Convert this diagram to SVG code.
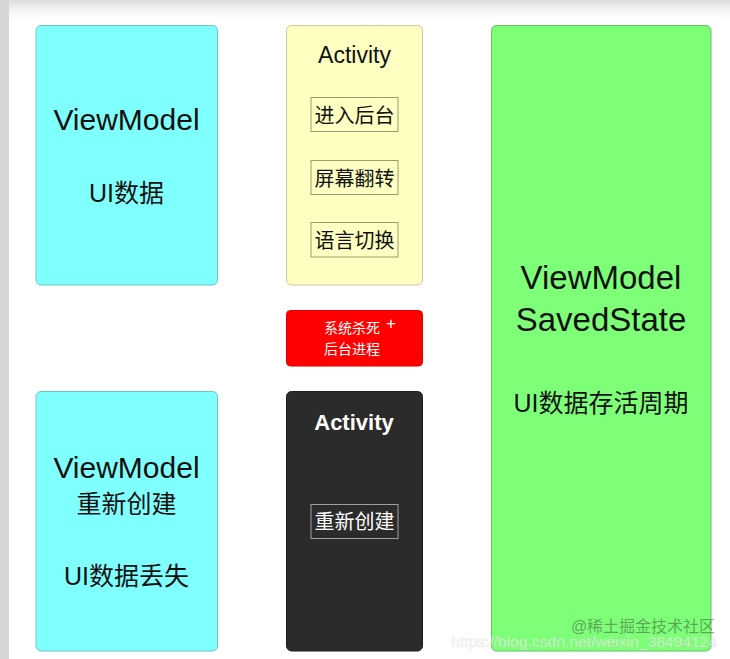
<svg xmlns="http://www.w3.org/2000/svg" width="730" height="659" viewBox="0 0 730 659">
<defs>
<linearGradient id="topfade" x1="0" y1="0" x2="0" y2="1">
<stop offset="0" stop-color="#dcdcdc"/>
<stop offset="1" stop-color="#ffffff" stop-opacity="0"/>
</linearGradient>
<style>
text{font-family:"Liberation Sans","Noto Sans CJK SC",sans-serif;text-anchor:middle}
.cyan{fill:#80ffff;stroke:#6cc6c6;stroke-width:1}
.yellow{fill:#ffffc2;stroke:#c9c99a;stroke-width:1}
.red{fill:#ff0000;stroke:#dd0000;stroke-width:1}
.dark{fill:#2b2b2b;stroke:#1e1e1e;stroke-width:1}
.green{fill:#7dff78;stroke:#63c460;stroke-width:1}
.inbox{fill:none;stroke:#9b9b72;stroke-width:1}
.inboxd{fill:none;stroke:#a0a0a0;stroke-width:1}
.dk{fill:#111}
.wt{fill:#fff}
</style>
</defs>
<rect x="0" y="0" width="730" height="659" fill="#ffffff"/>
<rect x="0" y="0" width="730" height="24" fill="url(#topfade)"/>
<rect x="0" y="0" width="9" height="659" fill="#d6d6d6"/>

<g id="vm-top">
<rect class="cyan" x="36" y="25.5" width="181.5" height="259.5" rx="5"/>
<text class="dk" x="126.5" y="130" font-size="30">ViewModel</text>
<text class="dk" x="126.5" y="202" font-size="25">UI数据</text>
</g>

<g id="activity-yellow">
<rect class="yellow" x="286.5" y="25.5" width="136" height="259.5" rx="5"/>
<text class="dk" x="354.5" y="63" font-size="23">Activity</text>
<rect class="inbox" x="311" y="97.5" width="87" height="34"/>
<text class="dk" x="354.5" y="122.5" font-size="20">进入后台</text>
<rect class="inbox" x="311" y="160.5" width="87" height="34"/>
<text class="dk" x="354.5" y="185.5" font-size="20">屏幕翻转</text>
<rect class="inbox" x="311" y="222.5" width="87" height="34.5"/>
<text class="dk" x="354.5" y="247.5" font-size="20">语言切换</text>
</g>

<g id="kill">
<rect class="red" x="286.5" y="310.5" width="136" height="55.5" rx="4"/>
<text class="wt" x="324" y="333" font-size="14" style="text-anchor:start">系统杀死</text>
<text class="wt" x="391" y="329" font-size="17" style="font-weight:300">+</text>
<text class="wt" x="324" y="354" font-size="14" style="text-anchor:start">后台进程</text>
</g>

<g id="vm-bottom">
<rect class="cyan" x="36" y="391.5" width="181.5" height="259.5" rx="5"/>
<text class="dk" x="126.5" y="477.5" font-size="30">ViewModel</text>
<text class="dk" x="126.5" y="513" font-size="25">重新创建</text>
<text class="dk" x="126.5" y="585" font-size="25">UI数据丢失</text>
</g>

<g id="activity-dark">
<rect class="dark" x="286.5" y="391.5" width="136" height="259.5" rx="5"/>
<text class="wt" x="354" y="430" font-size="22" font-weight="bold">Activity</text>
<rect class="inboxd" x="311" y="504.5" width="87" height="34"/>
<text class="wt" x="354.5" y="529" font-size="20">重新创建</text>
</g>

<g id="savedstate">
<rect class="green" x="491.5" y="25.5" width="219.5" height="625.5" rx="5"/>
<text class="dk" x="601" y="288.5" font-size="33">ViewModel</text>
<text class="dk" x="601" y="330.5" font-size="33">SavedState</text>
<text class="dk" x="601" y="412" font-size="25">UI数据存活周期</text>
</g>

<g id="connectors"></g>

<g id="watermark">
<text x="584" y="647" font-size="14" textLength="266" lengthAdjust="spacingAndGlyphs" fill="#ffffff" fill-opacity="0.6" stroke="#bbbbbb" stroke-opacity="0.35" stroke-width="0.6">https://blog.csdn.net/weixin_38494124</text>
<text x="643" y="632" font-size="16" fill="#333333" fill-opacity="0.45">@稀土掘金技术社区</text>
</g>
</svg>
